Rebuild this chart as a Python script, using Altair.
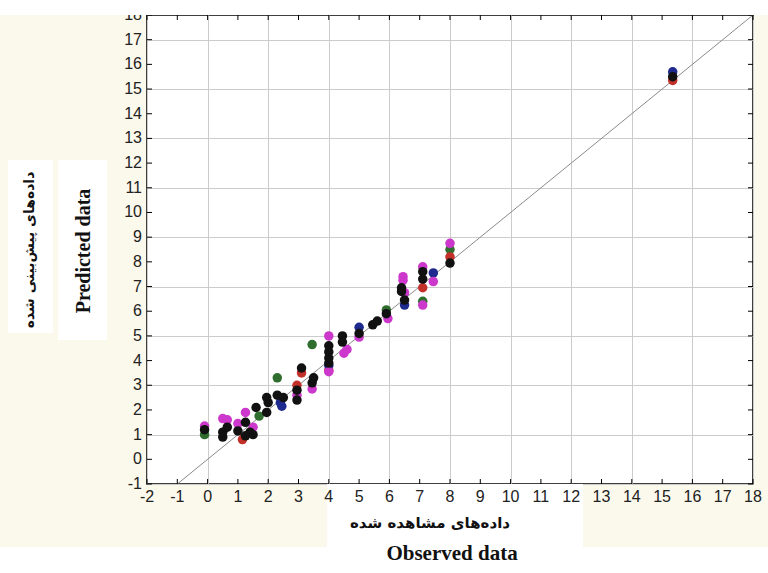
import altair as alt
import pandas as pd

# ---- data ----
black_obs = [-0.1, 0.5, 0.5, 0.65, 1.0, 1.25, 1.25, 1.4, 1.5, 1.6, 1.95, 1.95, 2.0, 2.3, 2.5, 2.95, 2.95, 3.1, 3.45, 3.5,
             4.0, 4.0, 4.0, 4.0, 4.45, 4.45, 5.0, 5.45, 5.6, 5.9, 6.4, 6.4, 6.5, 7.1, 7.1, 8.0, 15.35]
black_pred = [1.2, 0.9, 1.1, 1.3, 1.15, 1.5, 0.95, 1.1, 1.0, 2.1, 2.5, 1.9, 2.3, 2.6, 2.5, 2.8, 2.4, 3.7, 3.1, 3.3,
              4.6, 4.35, 4.1, 3.9, 5.0, 4.75, 5.1, 5.45, 5.6, 5.9, 6.95, 6.8, 6.45, 7.6, 7.3, 7.95, 15.5]
magenta_obs = [-0.1, 0.5, 0.65, 1.0, 1.25, 1.5, 2.95, 3.45, 4.0, 4.0, 4.5, 4.6, 5.0, 5.95, 6.45, 6.45, 6.5, 7.1, 7.1, 7.45, 8.0]
magenta_pred = [1.35, 1.65, 1.6, 1.45, 1.9, 1.3, 2.6, 2.85, 5.0, 3.55, 4.3, 4.45, 4.95, 5.7, 7.4, 7.25, 6.75, 7.8, 6.25, 7.2, 8.75]
green_obs = [-0.1, 1.7, 2.3, 3.45, 5.9, 7.1, 8.0]
green_pred = [1.0, 1.75, 3.3, 4.65, 6.05, 6.4, 8.5]
blue_obs = [2.4, 2.45, 4.0, 5.0, 6.5, 7.45, 15.35]
blue_pred = [2.3, 2.15, 3.8, 5.35, 6.25, 7.55, 15.7]
red_obs = [1.15, 2.95, 3.1, 4.0, 7.1, 8.0, 15.35]
red_pred = [0.8, 3.0, 3.5, 3.6, 6.95, 8.2, 15.35]

series_names = ["green", "red", "blue", "magenta", "black"]
series_colors = ["#2f6e2f", "#c23029", "#1f2a8f", "#cc38cc", "#111111"]

line_x = [-1, 18]
line_y = [-1, 18]

x_ticks = list(range(-2, 19))
y_ticks = list(range(-1, 19))

y_title_fa = "داده‌های پیش‌بینی شده"
y_title_en = "Predicted data"
x_title_fa = "داده‌های مشاهده شده"
x_title_en = "Observed data"

# ---- build tables ----
rows = []
for z, (name, obs, pred) in enumerate([
    ("green", green_obs, green_pred),
    ("red", red_obs, red_pred),
    ("blue", blue_obs, blue_pred),
    ("magenta", magenta_obs, magenta_pred),
    ("black", black_obs, black_pred),
]):
    for o, p in zip(obs, pred):
        rows.append({"obs": o, "pred": p, "series": name, "z": z})
pts = pd.DataFrame(rows)
line_df = pd.DataFrame({"x": line_x, "y": line_y})
xt_df = pd.DataFrame({"t": x_ticks, "lab": [str(v) for v in x_ticks]})
yt_df = pd.DataFrame({"t": y_ticks, "lab": [str(v) for v in y_ticks]})

W, H = 606, 469
xscale = alt.Scale(domain=[-2, 18], nice=False, zero=False)
yscale = alt.Scale(domain=[-1, 18], nice=False, zero=False)

empty = alt.Data(values=[{}])


def box(x1, x2, y1, y2, color="white"):
    return alt.Chart(empty).mark_rect(color=color, clip=False).encode(
        x=alt.value(x1), x2=alt.value(x2), y=alt.value(y1), y2=alt.value(y2)
    )


# background boxes (white patches on the cream page)
bg = (
    box(-147, 621, 532, 558)
    + box(180, 436, 469, 532)
    + box(-139, -94, 145, 318)
    + box(-89, -40, 145, 325)
)
top_strip = box(-147, 621, -15, 0)

grid_x = alt.Axis(values=x_ticks, grid=True, gridColor="#cccccc", gridWidth=1, ticks=False,
                  domain=False, labels=False, title=None)
grid_y = alt.Axis(values=y_ticks, grid=True, gridColor="#cccccc", gridWidth=1, ticks=False,
                  domain=False, labels=False, title=None)

diag = alt.Chart(line_df).mark_line(color="#8a8a8a", strokeWidth=1).encode(
    x=alt.X("x:Q", scale=xscale, axis=grid_x),
    y=alt.Y("y:Q", scale=yscale, axis=grid_y),
)

points = alt.Chart(pts).mark_point(filled=True, shape="circle", size=90, opacity=1).encode(
    x=alt.X("obs:Q", scale=xscale),
    y=alt.Y("pred:Q", scale=yscale),
    color=alt.Color("series:N", scale=alt.Scale(domain=series_names, range=series_colors), legend=None),
    order=alt.Order("z:Q"),
)

tick_len = 5
xt_bottom = alt.Chart(xt_df).mark_rule(color="black", strokeWidth=1).encode(
    x=alt.X("t:Q", scale=xscale), y=alt.value(H), y2=alt.value(H - tick_len))
xt_top = alt.Chart(xt_df).mark_rule(color="black", strokeWidth=1).encode(
    x=alt.X("t:Q", scale=xscale), y=alt.value(0), y2=alt.value(tick_len))
yt_left = alt.Chart(yt_df).mark_rule(color="black", strokeWidth=1).encode(
    y=alt.Y("t:Q", scale=yscale), x=alt.value(0), x2=alt.value(tick_len))
yt_right = alt.Chart(yt_df).mark_rule(color="black", strokeWidth=1).encode(
    y=alt.Y("t:Q", scale=yscale), x=alt.value(W), x2=alt.value(W - tick_len))

xlabels = alt.Chart(xt_df).mark_text(font="Liberation Sans", fontSize=16, color="#222222",
                                     align="center", baseline="middle", clip=False).encode(
    x=alt.X("t:Q", scale=xscale), y=alt.value(H + 13), text="lab:N")
ylabels = alt.Chart(yt_df).mark_text(font="Liberation Sans", fontSize=16, color="#222222",
                                     align="right", baseline="middle", clip=False).encode(
    y=alt.Y("t:Q", scale=yscale), x=alt.value(-5), text="lab:N")

t_y_fa = alt.Chart(empty).mark_text(text=y_title_fa, angle=270, font="DejaVu Sans", fontSize=14,
                                     fontWeight="bold", color="#111111", baseline="middle", align="center").encode(
    x=alt.value(-117), y=alt.value(235))
t_y_en = alt.Chart(empty).mark_text(text=y_title_en, angle=270, font="Liberation Serif", fontSize=20,
                                     fontWeight="bold", color="#111111", baseline="middle", align="center").encode(
    x=alt.value(-63), y=alt.value(236))
t_x_fa = alt.Chart(empty).mark_text(text=x_title_fa, font="DejaVu Sans", fontSize=15,
                                     fontWeight="bold", color="#111111", baseline="middle", align="center").encode(
    x=alt.value(283), y=alt.value(508))
t_x_en = alt.Chart(empty).mark_text(text=x_title_en, font="Liberation Serif", fontSize=21,
                                     fontWeight="bold", color="#111111", baseline="middle", align="center").encode(
    x=alt.value(305), y=alt.value(539))

chart = alt.layer(
    bg, diag, points, xt_bottom, xt_top, yt_left, yt_right, xlabels, ylabels, top_strip,
    t_y_fa, t_y_en, t_x_fa, t_x_en
).properties(
    width=W, height=H,
    autosize=alt.AutoSizeParams(type="none"),
    padding={"left": 147, "top": 15, "right": 15, "bottom": 89},
    background="#fbf8ec",
).configure_view(
    stroke="black", strokeWidth=1.5, fill="white"
)

chart.save("out.html", embed_options={"renderer": "svg", "actions": False})
